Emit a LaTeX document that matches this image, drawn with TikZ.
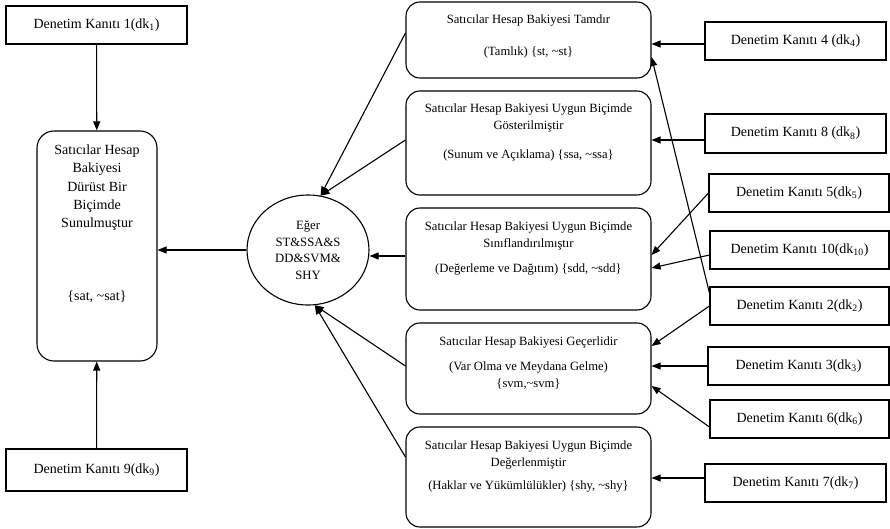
\documentclass[tikz,border=0pt]{standalone}
\usepackage{fontspec}
\setmainfont{Liberation Serif}
\usetikzlibrary{arrows.meta}
\usetikzlibrary{shapes.geometric}
\newcommand{\ortametin}[2]{\parbox[c][#1][t]{245pt}{\centering\fontsize{12.6}{17}\selectfont\rule{0pt}{22pt}#2}}
\newcommand{\yok}{\textasciitilde}

\begin{document}
\begin{tikzpicture}[x=1pt, y=-1pt,
  kanit/.style={draw, line width=1.1pt, minimum width=181pt, minimum height=38pt, inner sep=0pt, font=\fontsize{14}{17}\selectfont},
  orta/.style={draw, line width=1.1pt, rounded corners=14pt, inner sep=0pt},
  ok/.style={-{Triangle[length=9pt,width=7pt]}, line width=1.1pt}]
\useasboundingbox (0,0) rectangle (890,529);

\node[kanit] (dk1) at (96.5,25) {Denetim Kanıtı 1(dk\textsubscript{1})};
\node[kanit, minimum height=42pt] (dk9) at (96.5,470) {Denetim Kanıtı 9(dk\textsubscript{9})};
\node[draw, line width=1.1pt, rounded corners=17pt, inner sep=0pt] (sat) at (97,246)
  {\parbox[c][230pt][t]{120pt}{\centering\fontsize{14}{18.3}\selectfont\rule{0pt}{23.5pt}Satıcılar Hesap\\Bakiyesi\\Dürüst Bir\\Biçimde\\Sunulmuştur\\[54pt]\{sat, \yok sat\}}};

\node[draw, ellipse, line width=1.1pt, minimum width=122pt, minimum height=110pt, inner sep=0pt, align=center,
  font=\fontsize{12.7}{16.5}\selectfont] (eger) at (308,250) {Eğer\\ST\&SSA\&S\\DD\&SVM\&\\SHY};

\node[orta] (st) at (528.5,40) {\ortametin{76pt}{Satıcılar Hesap Bakiyesi Tamdır\\[15pt](Tamlık) \{st, \yok st\}}};
\node[orta] (ssa) at (528.5,143) {\ortametin{104pt}{Satıcılar Hesap Bakiyesi Uygun Biçimde\\Gösterilmiştir\\[12pt](Sunum ve Açıklama) \{ssa, \yok ssa\}}};
\node[orta] (sdd) at (528.5,259) {\ortametin{102pt}{Satıcılar Hesap Bakiyesi Uygun Biçimde\\Sınıflandırılmıştır\\[8pt](Değerleme ve Dağıtım) \{sdd, \yok sdd\}}};
\node[orta] (svm) at (528.5,368.5) {\ortametin{91pt}{Satıcılar Hesap Bakiyesi Geçerlidir\\[8pt](Var Olma ve Meydana Gelme)\\\{svm,\yok svm\}}};
\node[orta] (shy) at (528.5,477) {\ortametin{100pt}{Satıcılar Hesap Bakiyesi Uygun Biçimde\\Değerlenmiştir\\[6pt](Haklar ve Yükümlülükler) \{shy, \yok shy\}}};

\node[kanit] (dk4) at (795.5,41) {Denetim Kanıtı 4 (dk\textsubscript{4})};
\node[kanit, minimum height=39pt] (dk8) at (795.5,133.5) {Denetim Kanıtı 8 (dk\textsubscript{8})};
\node[kanit, minimum width=180pt] (dk5) at (799,193) {Denetim Kanıtı 5(dk\textsubscript{5})};
\node[kanit, minimum width=179pt] (dk10) at (799.5,250) {Denetim Kanıtı 10(dk\textsubscript{10})};
\node[kanit, minimum width=179pt] (dk2) at (799.5,306) {Denetim Kanıtı 2(dk\textsubscript{2})};
\node[kanit, minimum width=181pt] (dk3) at (798.5,366) {Denetim Kanıtı 3(dk\textsubscript{3})};
\node[kanit, minimum width=179pt] (dk6) at (799.5,419) {Denetim Kanıtı 6(dk\textsubscript{6})};
\node[kanit] (dk7) at (795.5,483) {Denetim Kanıtı 7(dk\textsubscript{7})};

\draw[ok] (dk1) -- (sat);
\draw[ok] (dk9) -- (sat);
\draw[ok] (eger.west) -- (eger.west -| sat.east);

\draw[ok] ([yshift=7pt]st.west) -- (eger.77);
\draw[ok] ([yshift=3pt]ssa.west) -- (eger.77);
\draw[ok] ([yshift=3pt]sdd.west) -- ([yshift=3pt]sdd.west -| eger.east);
\draw[ok] ([yshift=2.5pt]svm.west) -- (eger.-83);
\draw[ok] ([yshift=20pt]shy.west) -- (eger.-83);

\draw[ok] ([yshift=-3pt]dk4.west) -- ([yshift=-3pt]dk4.west -| st.east);
\draw[ok] ([yshift=-6.5pt]dk8.west) -- ([yshift=-6.5pt]dk8.west -| ssa.east);
\draw[ok] (dk5.west) -- ([yshift=4pt]sdd.east);
\draw[ok] ([yshift=-5pt]dk10.west) -- ([yshift=-9pt]sdd.east);
\draw[ok] ([yshift=13pt]dk2.west) -- ([yshift=-17pt]st.east);
\draw[ok] (dk2.west) -- ([yshift=22.5pt]svm.east);
\draw[ok] (dk3.west) -- (dk3.west -| svm.east);
\draw[ok] ([yshift=-8pt]dk6.west) -- ([yshift=-17.5pt]svm.east);
\draw[ok] ([yshift=5pt]dk7.west) -- ([yshift=5pt]dk7.west -| shy.east);
\end{tikzpicture}
\end{document}
